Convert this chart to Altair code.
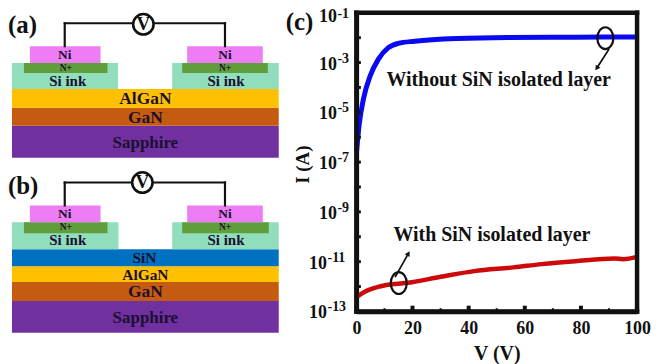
import altair as alt
import pandas as pd

FONT = "Liberation Serif"

# ---- schematic panels: layer stack (schematic units)
layer_name = ["Sapphire", "GaN", "AlGaN", "Si ink", "Si ink", "N+", "N+", "Ni", "Ni",
              "Sapphire", "GaN", "AlGaN", "SiN", "Si ink", "Si ink", "N+", "N+", "Ni", "Ni"]
layer_x0 = [12, 12, 12, 12, 173, 24, 183, 30, 188,
            12, 12, 12, 12, 12, 173, 24, 183, 30, 188]
layer_x1 = [280, 280, 280, 118.5, 280, 108, 269, 101, 264,
            280, 280, 280, 280, 119, 280, 108, 270, 101, 264]
layer_y0 = [125, 107, 88, 62, 62, 62, 62, 45, 45,
            301, 282, 266, 249, 222, 222, 222, 222, 205, 205]
layer_y1 = [157, 125, 107, 88, 88, 72, 72, 62, 62,
            333, 301, 282, 266, 249, 249, 233, 233, 222, 222]
layer_names = ["Sapphire", "GaN", "AlGaN", "SiN", "Si ink", "N+", "Ni"]
layer_colors = ["#7030A0", "#C55A11", "#FFC000", "#0070C0", "#90DEBC", "#5F9E3A", "#EE7CF5"]

label_text = ["Ni", "Ni", "N+", "N+", "Si ink", "Si ink", "AlGaN", "GaN", "Sapphire",
              "Ni", "Ni", "N+", "N+", "Si ink", "Si ink", "SiN", "AlGaN", "GaN", "Sapphire"]
label_x = [65, 226, 66, 226, 68, 227, 146, 146, 146,
           65, 226, 66, 226, 68, 227, 145, 146, 146, 146]
label_y = [53.5, 53.5, 67, 67, 80.5, 80.5, 98.5, 117, 142,
           214, 214, 227, 227, 240, 240, 257.5, 274.5, 292.5, 318]
label_size = [13.5, 13.5, 9.5, 9.5, 15, 15, 17.5, 17.5, 17,
              13.5, 13.5, 9.5, 9.5, 15, 15, 15.5, 15.5, 17.5, 17]

wire_x0 = [65, 65, 226, 65, 65, 226]
wire_x1 = [65, 226, 226, 65, 226, 226]
wire_y0 = [45, 22, 22, 205, 182, 182]
wire_y1 = [22, 22, 45, 182, 182, 205]

meter_x = [144, 143]
meter_y = [23, 182]

panel_text = ["(a)", "(b)", "(c)"]
panel_x = [8, 8, 287]
panel_y = [24, 186, 21]

# ---- I-V curves
without_v = [0.1, 0.95, 2.5, 4.9, 7.8, 11.3, 14.9, 20.8, 36, 54, 77, 100]
without_exp = [-6.54, -5.54, -4.47, -3.54, -2.87, -2.41, -2.23, -2.14, -2.03, -1.99, -1.98, -1.97]
with_v = [0.3, 3, 6.6, 12.5, 18.4, 30, 42, 56, 66, 78, 92, 95, 100]
with_exp = [-12.41, -12.21, -12.05, -11.91, -11.85, -11.61, -11.38, -11.23, -11.1, -10.98, -10.87, -10.9, -10.81]

y_major = [-3, -5, -7, -9, -11, -13]
y_top = [-1]
y_all = [-2, -3, -4, -5, -6, -7, -8, -9, -10, -11, -12]
x_major = [0, 20, 40, 60, 80, 100]
x_major_ticks = [20, 40, 60, 80]
x_minor_ticks = [10, 30, 50, 70, 90]

frame_v0 = [-0.8, -0.8, -0.8, 99.2]
frame_v1 = [100.8, 100.8, 0.8, 100.8]
frame_e0 = [-13.09, -1.09, -13.09, -13.09]
frame_e1 = [-12.91, -0.91, -0.91, -0.91]

note_text = ["Without SiN isolated layer", "With SiN isolated layer"]
note_v = [50.7, 48.3]
note_exp = [-3.72, -9.94]

ring_v = [88.7, 15.1]
ring_exp = [-2.02, -11.86]
arrow_v0 = [90, 13.8]
arrow_v1 = [85.8, 18.4]
arrow_e0 = [-2.46, -11.62]
arrow_e1 = [-3.2, -10.7]
arrow_angle = [214, 30]

# ---- left panel
px = alt.Scale(domain=[8, 358], nice=False, zero=False)
py = alt.Scale(domain=[356.5, 11.5], nice=False, zero=False)
LX = alt.X("x0:Q", scale=px, axis=None)
LY = alt.Y("y0:Q", scale=py, axis=None)

rects = alt.Chart(pd.DataFrame(dict(name=layer_name, x0=layer_x0, x1=layer_x1, y0=layer_y0, y1=layer_y1))).mark_rect().encode(
    x=LX, x2="x1:Q", y=LY, y2="y1:Q",
    color=alt.Color("name:N", scale=alt.Scale(domain=layer_names, range=layer_colors), legend=None),
)
wires = alt.Chart(pd.DataFrame(dict(x0=wire_x0, x1=wire_x1, y0=wire_y0, y1=wire_y1))).mark_rule(
    color="#111111", strokeWidth=2.2, strokeCap="square"
).encode(x=LX, x2="x1:Q", y=LY, y2="y1:Q")
meters_df = pd.DataFrame(dict(x0=meter_x, y0=meter_y, t=["V", "V"]))
meters = alt.Chart(meters_df).mark_point(
    shape="circle", filled=False, fill="white", fillOpacity=1, stroke="#111111", strokeWidth=2.6, size=420, opacity=1
).encode(x=LX, y=LY)
meter_txt = alt.Chart(meters_df).mark_text(font=FONT, fontWeight="bold", fontSize=19, color="#111111").encode(
    x=LX, y=LY, text="t:N")
labels = alt.Chart(pd.DataFrame(dict(t=label_text, x0=label_x, y0=label_y, s=label_size))).mark_text(
    font=FONT, fontWeight="bold", color="#1a1030", baseline="middle"
).encode(x=LX, y=LY, text="t:N", size=alt.Size("s:Q", scale=None, legend=None))
panels = alt.Chart(pd.DataFrame(dict(t=panel_text, x0=panel_x, y0=panel_y))).mark_text(
    font=FONT, fontWeight="bold", fontSize=25, color="#111111", align="left", baseline="middle"
).encode(x=LX, y=LY, text="t:N")

left = alt.layer(rects, wires, meters, meter_txt, labels, panels).properties(
    width=350, height=345, view=alt.ViewConfig(stroke=None)
).resolve_scale(color="independent")

# ---- right panel
vs = alt.Scale(domain=[0, 100], nice=False, zero=False)
ys = alt.Scale(type="log", domain=[1e-13, 1e-1], nice=False)


def pw(values):
    return [10.0 ** v for v in values]


INK = "#111111"
AX = alt.Axis(
    values=x_major, format="d", domain=True, domainColor=INK, domainWidth=4.5, ticks=False, grid=False,
    labelFont=FONT, labelFontWeight="bold", labelFontSize=18, labelColor="#111111", labelPadding=8,
    labelFlush=False, labelOverlap=False,
    titleFont=FONT, titleFontWeight="bold", titleFontSize=20, titleColor="#111111", titlePadding=6)
AY = alt.Axis(
    values=pw(y_major + y_top), domain=True, domainColor=INK, domainWidth=4.5, ticks=False, labels=False, grid=False,
    titleFont=FONT, titleFontWeight="bold", titleFontSize=19, titleColor="#111111",
    titleX=-44, titleY=152)
X = alt.X("v:Q", scale=vs, axis=AX, title="V (V)")
Y = alt.Y("i:Q", scale=ys, axis=AY, title="I (A)")

blue = alt.Chart(pd.DataFrame(dict(v=without_v, i=pw(without_exp)))).mark_line(
    color="#0A0AF0", strokeWidth=5, interpolate="monotone").encode(x=X, y=Y)
red = alt.Chart(pd.DataFrame(dict(v=with_v, i=pw(with_exp)))).mark_line(
    color="#CC0A0A", strokeWidth=4.5, interpolate="monotone").encode(x=X, y=Y)

tick_y = alt.Chart(pd.DataFrame(dict(
    v=[0] * len(y_all), v2=[1.6] * len(y_all),
    i=pw([e - 0.06 for e in y_all]), i2=pw([e + 0.06 for e in y_all])))).mark_rect(color=INK).encode(
    x=X, x2="v2:Q", y=Y, y2="i2:Q")
tick_major = alt.Chart(pd.DataFrame(dict(
    v=[t - 0.7 for t in x_major_ticks], v2=[t + 0.7 for t in x_major_ticks],
    i=[1e-13] * len(x_major_ticks), i2=[1.7e-13] * len(x_major_ticks)))).mark_rect(color=INK).encode(
    x=X, x2="v2:Q", y=Y, y2="i2:Q")
tick_minor = alt.Chart(pd.DataFrame(dict(
    v=[t - 0.35 for t in x_minor_ticks], v2=[t + 0.35 for t in x_minor_ticks],
    i=[1e-13] * len(x_minor_ticks), i2=[1.35e-13] * len(x_minor_ticks)))).mark_rect(color=INK).encode(
    x=X, x2="v2:Q", y=Y, y2="i2:Q")
frame = alt.Chart(pd.DataFrame(dict(v=frame_v0, v2=frame_v1, i=pw(frame_e0), i2=pw(frame_e1)))).mark_rect(
    color=INK).encode(x=X, x2="v2:Q", y=Y, y2="i2:Q")

base_df = pd.DataFrame(dict(i=pw(y_major), t=["10"] * len(y_major), e=[str(e) for e in y_major],
                            two=[e <= -10 for e in y_major]))
one_df = base_df[~base_df.two]
two_df = base_df[base_df.two]
top_df = pd.DataFrame(dict(i=pw(y_top), t=["10"] * len(y_top), e=[str(e) for e in y_top]))
tick_font = dict(font=FONT, fontWeight="bold", color="#111111")
ten_top = alt.Chart(top_df).mark_text(align="right", baseline="middle", fontSize=18, dx=-19.5, dy=4, **tick_font).encode(
    y=Y, x=alt.value(0), text="t:N")
sup_top = alt.Chart(top_df).mark_text(align="left", baseline="middle", fontSize=14, dx=-19, dy=1.5, **tick_font).encode(
    y=Y, x=alt.value(0), text="e:N")
ten1 = alt.Chart(one_df).mark_text(align="right", baseline="middle", fontSize=18, dx=-19.5, dy=2, **tick_font).encode(
    y=Y, x=alt.value(0), text="t:N")
ten2 = alt.Chart(two_df).mark_text(align="right", baseline="middle", fontSize=18, dx=-29.5, dy=2, **tick_font).encode(
    y=Y, x=alt.value(0), text="t:N")
sup1 = alt.Chart(one_df).mark_text(align="left", baseline="middle", fontSize=14, dx=-19, dy=-4, **tick_font).encode(
    y=Y, x=alt.value(0), text="e:N")
sup2 = alt.Chart(two_df).mark_text(align="left", baseline="middle", fontSize=14, dx=-29, dy=-4, **tick_font).encode(
    y=Y, x=alt.value(0), text="e:N")

notes = alt.Chart(pd.DataFrame(dict(t=note_text, v=note_v, i=pw(note_exp)))).mark_text(
    fontSize=20, baseline="middle", **tick_font).encode(x=X, y=Y, text="t:N")
ELLIPSE = "M0,-1 C0.4,-1 0.73,-0.55 0.73,0 C0.73,0.55 0.4,1 0,1 C-0.4,1 -0.73,0.55 -0.73,0 C-0.73,-0.55 -0.4,-1 0,-1 Z"
rings = alt.Chart(pd.DataFrame(dict(v=ring_v, i=pw(ring_exp)))).mark_point(
    shape=ELLIPSE, size=484, filled=False, stroke="#111111", strokeWidth=2.2, opacity=1).encode(x=X, y=Y)
arrow_df = pd.DataFrame(dict(v=arrow_v0, v2=arrow_v1, i=pw(arrow_e0), i2=pw(arrow_e1), a=arrow_angle))
shafts = alt.Chart(arrow_df).mark_rule(color="#111111", strokeWidth=1.8).encode(x=X, x2="v2:Q", y=Y, y2="i2:Q")
heads = alt.Chart(arrow_df).mark_point(shape="triangle", filled=True, color="#111111", size=32, opacity=1).encode(
    x=alt.X("v2:Q", scale=vs, axis=AX, title="V (V)"), y=alt.Y("i2:Q", scale=ys, axis=AY, title="I (A)"),
    angle=alt.Angle("a:Q", scale=None))

right = alt.layer(blue, red, ten_top, sup_top, ten1, ten2, sup1, sup2,
                  notes, rings, shafts, heads, tick_y, tick_major, tick_minor, frame).properties(
    width=282, height=300, view=alt.ViewConfig(stroke=None)
)

chart = alt.hconcat(left, right, spacing=0, bounds="flush").resolve_scale(color="independent").properties(
    padding={"left": 0, "top": -2, "right": 0, "bottom": 0}, background="white"
)
chart.save("out.html", embed_options={"renderer": "svg", "actions": False})
